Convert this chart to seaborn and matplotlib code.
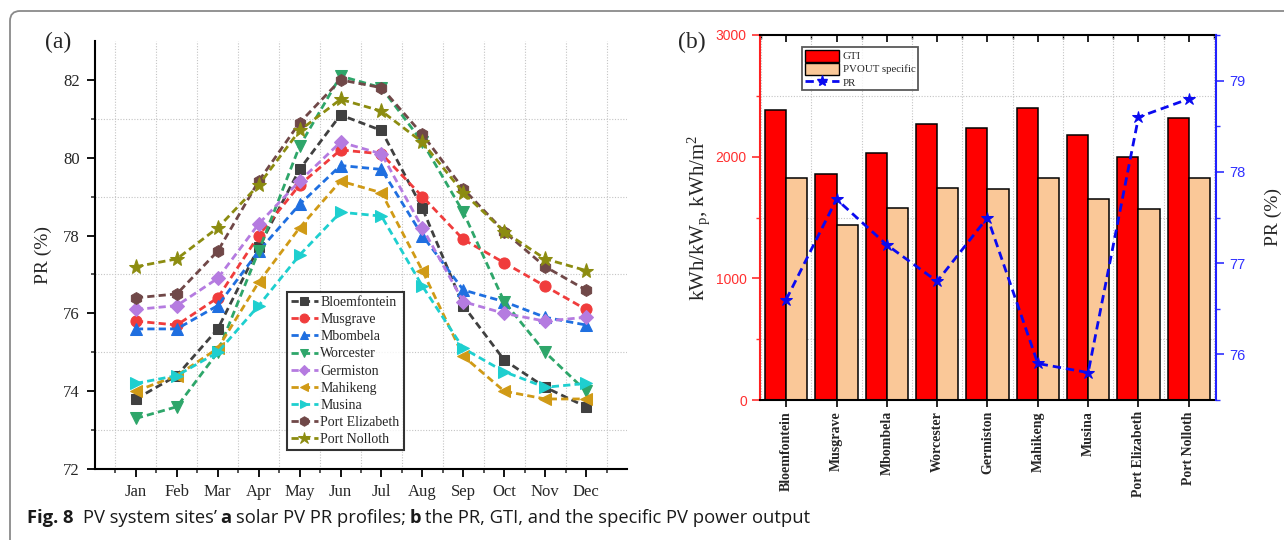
import numpy as np
import pandas as pd
import matplotlib
matplotlib.use("Agg")
import matplotlib.pyplot as plt
import matplotlib.ticker as mticker
from matplotlib.patches import FancyBboxPatch
from matplotlib.lines import Line2D
from matplotlib.patches import Patch
from matplotlib.transforms import IdentityTransform
import seaborn as sns

# ---------------- data ----------------
months = ["Jan", "Feb", "Mar", "Apr", "May", "Jun", "Jul", "Aug", "Sep", "Oct", "Nov", "Dec"]
sites = ["Bloemfontein", "Musgrave", "Mbombela", "Worcester", "Germiston",
         "Mahikeng", "Musina", "Port Elizabeth", "Port Nolloth"]

pr_bloemfontein = [73.8, 74.4, 75.6, 77.7, 79.7, 81.1, 80.7, 78.7, 76.2, 74.8, 74.1, 73.6]
pr_musgrave = [75.8, 75.7, 76.4, 78.0, 79.3, 80.2, 80.1, 79.0, 77.9, 77.3, 76.7, 76.1]
pr_mbombela = [75.6, 75.6, 76.2, 77.6, 78.8, 79.8, 79.7, 78.0, 76.6, 76.3, 75.9, 75.7]
pr_worcester = [73.3, 73.6, 75.0, 77.6, 80.3, 82.1, 81.8, 80.4, 78.6, 76.3, 75.0, 74.0]
pr_germiston = [76.1, 76.2, 76.9, 78.3, 79.4, 80.4, 80.1, 78.2, 76.3, 76.0, 75.8, 75.9]
pr_mahikeng = [74.0, 74.4, 75.1, 76.8, 78.2, 79.4, 79.1, 77.1, 74.9, 74.0, 73.8, 73.8]
pr_musina = [74.2, 74.4, 75.0, 76.2, 77.5, 78.6, 78.5, 76.7, 75.1, 74.5, 74.1, 74.2]
pr_port_elizabeth = [76.4, 76.5, 77.6, 79.4, 80.9, 82.0, 81.8, 80.6, 79.2, 78.1, 77.2, 76.6]
pr_port_nolloth = [77.2, 77.4, 78.2, 79.3, 80.7, 81.5, 81.2, 80.4, 79.1, 78.1, 77.4, 77.1]

gti = [2380, 1855, 2030, 2270, 2235, 2400, 2180, 2000, 2320]
pvout_specific = [1825, 1440, 1578, 1742, 1735, 1825, 1655, 1570, 1825]
pr_annual = [76.6, 77.7, 77.2, 76.8, 77.5, 75.9, 75.8, 78.6, 78.8]

monthly = [pr_bloemfontein, pr_musgrave, pr_mbombela, pr_worcester, pr_germiston,
           pr_mahikeng, pr_musina, pr_port_elizabeth, pr_port_nolloth]
colors = ["#404040", "#F03C3C", "#1F6FE0", "#2EA66A", "#B57BE0",
          "#D09A16", "#1ECFCF", "#704848", "#8C8C10"]
markers = ["s", "o", "^", "v", "D", "<", ">", "h", "*"]
msizes = [7.5, 8, 8, 8, 7, 8, 8, 8.5, 11]

# ---------------- style ----------------
sns.set_style("white")
plt.rcParams["font.family"] = ["Liberation Serif", "DejaVu Serif"]
plt.rcParams["mathtext.fontset"] = "custom"
plt.rcParams["mathtext.rm"] = "Liberation Serif"
plt.rcParams["mathtext.it"] = "Liberation Serif:italic"
plt.rcParams["mathtext.bf"] = "Liberation Serif:bold"

fig = plt.figure(figsize=(12.84, 5.40), dpi=100)
W, H = 1284, 540

def ax_rect(l, r, t, b):
    return [l / W, 1 - b / H, (r - l) / W, (b - t) / H]

# ---------------- panel (a) ----------------
axa = fig.add_axes(ax_rect(95, 627, 41, 469))
xm = np.arange(1, 13)
dash = (0, (2.6, 1.5))
for name, vals, c, m, ms in zip(sites, monthly, colors, markers, msizes):
    sns.lineplot(x=xm, y=vals, ax=axa, color=c, marker=m, markersize=ms,
                 markeredgecolor=c, linestyle=dash, linewidth=2, label=name)

axa.set_xlim(0, 13)
axa.set_ylim(72, 83)
axa.set_xticks(xm)
axa.set_xticklabels(months)
axa.xaxis.set_minor_locator(mticker.FixedLocator(np.arange(0.5, 13, 1.0)))
axa.set_yticks([72, 74, 76, 78, 80, 82])
axa.yaxis.set_minor_locator(mticker.FixedLocator([73, 75, 77, 79, 81]))
axa.grid(False)
axa.grid(which="minor", color="#c4c4c4", linestyle=(0, (1, 1.5)), linewidth=0.8)
for s in ["top", "right"]:
    axa.spines[s].set_visible(False)
for s in ["left", "bottom"]:
    axa.spines[s].set_color("black")
    axa.spines[s].set_linewidth(1.5)
axa.tick_params(axis="both", which="major", direction="out", length=5.5, width=1.3,
                labelsize=12, color="black", left=True, bottom=True, pad=5.5)
axa.tick_params(axis="both", which="minor", direction="out", length=3, width=1.1,
                left=True, bottom=True)
axa.set_xlabel("")
axa.set_ylabel("PR (%)", fontsize=14, labelpad=8)
lega = axa.legend(loc="upper left", bbox_to_anchor=(0.361, 0.414), borderaxespad=0,
                  fontsize=10, frameon=True, fancybox=False, edgecolor="black",
                  handlelength=1.9, handletextpad=0.2, labelspacing=0.3,
                  borderpad=0.3, markerscale=0.8)
lega.get_frame().set_linewidth(1.5)

# ---------------- panel (b) ----------------
axb = fig.add_axes(ax_rect(760, 1216, 35, 400))
df = pd.DataFrame({
    "site": sites * 2,
    "metric": ["GTI"] * len(sites) + ["PVOUT specific"] * len(sites),
    "value": gti + pvout_specific,
})
sns.barplot(data=df, x="site", y="value", hue="metric", ax=axb,
            palette=["#FF0000", "#FAC898"], saturation=1, width=0.84,
            edgecolor="black", linewidth=1.1, legend=False)
axb.set_xlim(-0.52, 8.54)
axb.set_ylim(0, 3000)
axb.set_yticks([0, 1000, 2000, 3000])
axb.yaxis.set_minor_locator(mticker.FixedLocator([500, 1500, 2500]))
axb.xaxis.set_minor_locator(mticker.FixedLocator(np.arange(-0.5, 9, 1.0)))
axb.set_axisbelow(True)
axb.grid(False)
axb.grid(which="minor", color="#c4c4c4", linestyle=(0, (1, 1.5)), linewidth=0.8)
axb.set_xticks(range(len(sites)))
axb.set_xticklabels(sites, rotation=90, fontweight="bold", fontsize=10)
axb.set_xlabel("")
axb.set_ylabel(r"kWh/kW$\mathrm{_p}$, kWh/m$\mathrm{^2}$", fontsize=15, labelpad=3)
axb.tick_params(axis="x", which="major", direction="out", length=5, width=1.2,
                color="black", bottom=True, pad=3)
axb.tick_params(axis="x", which="minor", bottom=False)
axb.tick_params(axis="y", which="major", direction="out", length=6, width=1.2,
                colors="#FF3030", labelsize=10, left=True)
axb.tick_params(axis="y", which="minor", direction="out", length=3, width=1.0,
                color="#FF3030", left=True)
for lab in axb.get_yticklabels():
    lab.set_fontfamily(["Liberation Sans", "DejaVu Sans"])
axb.spines["left"].set_color("#FF2020")
axb.spines["left"].set_linewidth(1.5)
axb.spines["bottom"].set_color("black")
axb.spines["bottom"].set_linewidth(1.5)
axb.spines["top"].set_color("black")
axb.spines["top"].set_linewidth(1.5)
axb.spines["right"].set_visible(False)

sec = axb.secondary_xaxis("top")
sec.set_xticks(range(len(sites)))
sec.set_xticklabels([])
sec.xaxis.set_minor_locator(mticker.FixedLocator(np.arange(-0.5, 9, 1.0)))
sec.tick_params(axis="x", which="major", direction="in", length=5, width=1.2, color="black")
sec.tick_params(axis="x", which="minor", direction="in", length=3, width=1.0, color="black")
sec.spines["top"].set_visible(False)

axr = axb.twinx()
sns.lineplot(x=np.arange(len(sites)), y=pr_annual, ax=axr, color="#0A0AF0",
             marker="*", markersize=9, markeredgecolor="#0A0AF0",
             linestyle=(0, (3, 1.8)), linewidth=2, label="PR", legend=False)
axr.set_ylim(75.5, 79.5)
axr.set_yticks([76, 77, 78, 79])
axr.yaxis.set_minor_locator(mticker.FixedLocator([75.5, 76.5, 77.5, 78.5, 79.5]))
axr.grid(False)
axr.tick_params(axis="y", which="major", direction="out", length=6, width=1.2,
                colors="#3030FF", labelsize=10.5, right=True)
axr.tick_params(axis="y", which="minor", direction="out", length=3, width=1.0,
                color="#3030FF", right=True)
for lab in axr.get_yticklabels():
    lab.set_fontfamily(["Liberation Sans", "DejaVu Sans"])
axr.spines["right"].set_color("#2020FF")
axr.spines["right"].set_linewidth(1.5)
axr.spines["left"].set_visible(False)
axr.spines["top"].set_visible(False)
axr.spines["bottom"].set_visible(False)
axr.set_ylabel("PR (%)", fontsize=14, labelpad=14, rotation=90)
axr.set_xlim(-0.52, 8.54)

handles = [Patch(facecolor="#FF0000", edgecolor="black", linewidth=1),
           Patch(facecolor="#FAC898", edgecolor="black", linewidth=1),
           Line2D([], [], color="#0A0AF0", linestyle=(0, (3, 1.8)), linewidth=2,
                  marker="*", markersize=8)]
legb = axr.legend(handles, ["GTI", "PVOUT specific", "PR"], loc="upper left",
                  bbox_to_anchor=(0.092, 0.967), borderaxespad=0, fontsize=7.8,
                  frameon=True, fancybox=False, edgecolor="#303030",
                  handlelength=3.2, handleheight=1.3, handletextpad=0.3,
                  labelspacing=0.12, borderpad=0.25)
legb.get_frame().set_linewidth(1.3)

# ---------------- panel letters ----------------
fig.text(45 / W, 1 - 42 / H, "(a)", fontsize=17, va="center", ha="left")
fig.text(678 / W, 1 - 42 / H, "(b)", fontsize=17, va="center", ha="left")

# ---------------- border ----------------
border = FancyBboxPatch((10, -30), 1320, 540 - 11 + 30,
                        boxstyle="round,pad=0,rounding_size=10",
                        transform=IdentityTransform(), facecolor="none",
                        edgecolor="#8a8a8a", linewidth=1.3, zorder=10)
fig.patches.append(border)

# ---------------- caption ----------------
pieces = [("Fig. 8", "bold", 0), ("PV system sites\u2019", "normal", 10),
          ("a", "bold", 3), ("solar PV PR profiles;", "normal", 4),
          ("b", "bold", 4), ("the PR, GTI, and the specific PV power output", "normal", 4)]
fig.canvas.draw()
renderer = fig.canvas.get_renderer()
xpix = 27
ypix = 540 - 518
for txt, wt, gap in pieces:
    xpix += gap
    t = fig.text(xpix / W, ypix / H, txt, fontsize=13.2, fontweight=wt,
                 family=["Open Sans", "DejaVu Sans"], va="center", ha="left",
                 color="#1a1a1a")
    bb = t.get_window_extent(renderer)
    xpix += bb.width

fig.savefig("out.png", dpi=100)
